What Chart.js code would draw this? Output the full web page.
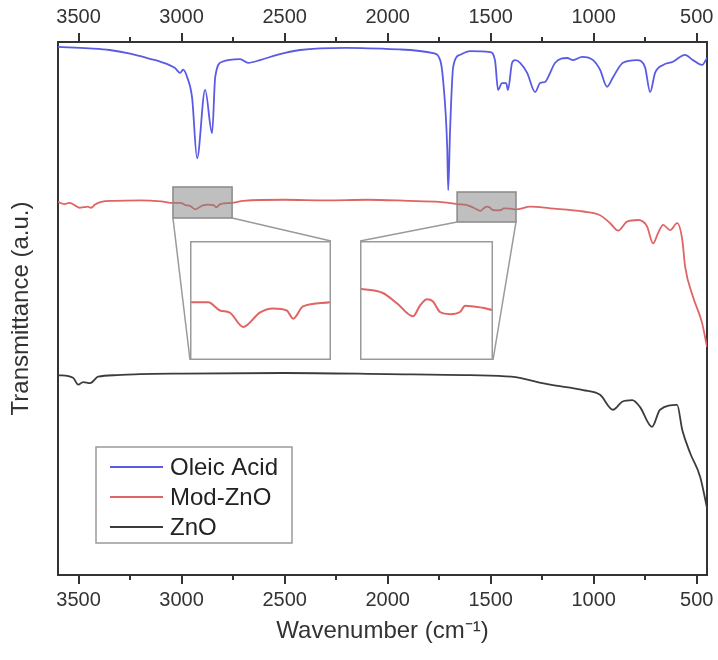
<!DOCTYPE html>
<html>
<head>
<meta charset="utf-8">
<script src="https://cdn.jsdelivr.net/npm/chart.js@4.4.1/dist/chart.umd.min.js"></script>
<style>
  body { margin: 0; background: #fff; }
  #wrap { position: relative; width: 718px; height: 660px; }
  #main { position: absolute; left: 0; top: 0; }
  .inset { position: absolute; background: #fff; }
</style>
</head>
<body>
<div id="wrap">
  <canvas id="main" width="718" height="660"></canvas>
  <canvas id="inset1" class="inset" width="141" height="119" style="left:190px;top:241px"></canvas>
  <canvas id="inset2" class="inset" width="133" height="119" style="left:360px;top:241px"></canvas>
</div>
<script>
// wavenumber (cm-1) and transmittance (a.u., 0-100)
const oleicWn = [3600,3450,3350,3250,3150,3104,3032,3007,2993,2973,2949,2925,2886,2852,2837,2803,2716,2677,2619,2536,2425,2200,1939,1779,1745,1731,1711,1706,1697,1682,1648,1600,1503,1479,1464,1445,1425,1416,1396,1381,1357,1323,1284,1260,1236,1221,1187,1129,1100,1056,1003,969,935,906,858,790,751,726,702,663,615,557,518,474,450];
const oleicT  = [99.1,98.8,98.5,97.8,96.8,96.3,95.1,94.2,94.8,93.4,89.5,78.2,91.0,82.9,93.4,96.3,96.8,96.1,96.6,97.6,98.5,98.9,98.6,97.9,96.6,92.9,80.3,72.2,83.5,95.3,97.6,98.3,98.1,96.6,91.0,92.3,92.3,91.0,96.1,96.6,96.1,94.2,90.6,92.3,92.5,93.4,96.1,97.0,96.6,97.2,96.6,94.8,91.6,93.4,96.1,96.6,95.3,90.6,94.2,95.7,96.3,97.6,96.6,95.7,97.0];

const modWn = [3600,3570,3545,3520,3495,3475,3455,3440,3420,3390,3330,3200,3100,3042,3005,2981,2961,2934,2900,2873,2845,2832,2812,2757,2700,2500,2300,2100,1900,1750,1663,1614,1583,1549,1534,1519,1506,1491,1469,1448,1437,1399,1377,1308,1211,1051,969,920,881,838,784,741,712,687,663,629,595,570,556,518,474,450];
const modT  = [70.0,69.6,69.8,69.4,68.9,69.0,69.1,68.9,69.5,70.0,70.2,70.3,70.1,69.8,69.8,69.4,69.3,68.6,69.3,69.5,69.4,69.0,69.6,69.8,70.2,70.4,70.3,70.4,70.2,70.0,69.6,69.4,68.9,68.3,68.8,69.1,69.0,68.5,68.4,68.5,68.8,68.7,68.6,69.1,68.8,68.2,67.5,66.0,64.6,66.3,66.6,65.4,62.2,64.2,65.7,64.7,66.0,62.9,57.8,52.2,47.3,42.8];

const znoWn = [3600,3527,3502,3478,3444,3405,3313,3202,3000,2500,2000,1600,1400,1211,1051,969,906,862,813,775,717,678,595,570,532,483,450];
const znoT  = [37.5,37.0,35.7,36.2,36.0,37.2,37.5,37.7,37.8,37.9,37.7,37.5,37.2,35.7,34.7,33.8,31.0,32.5,32.8,31.5,27.8,31.0,31.9,27.2,22.9,18.4,12.6];

const majorTicks = [3500, 3000, 2500, 2000, 1500, 1000, 500];
const minorTicks = [3250, 2750, 2250, 1750, 1250, 750];

// zoomed regions of the Mod-ZnO curve: [high wn, low wn], [low T, high T]
const box1Wn = [3042, 2755], box1T = [66.98, 72.8];
const box2Wn = [1663, 1377], box2T = [66.23, 71.86];

const seriesNames = ['Oleic Acid', 'Mod-ZnO', 'ZnO'];
const seriesColors = ['#5a5ae4', '#e06464', '#3c3c3c'];

Chart.defaults.font.family = 'Liberation Sans, Arial, sans-serif';
Chart.defaults.color = '#333';

function zip(xs, ys) { return xs.map((v, i) => ({ x: v, y: ys[i] })); }

const insets = [
  { wn: box1Wn, t: box1T, el: 'inset1', left: 190, top: 241, w: 141, h: 119, links: [['bl', 'bl'], ['br', 'tr']] },
  { wn: box2Wn, t: box2T, el: 'inset2', left: 360, top: 241, w: 133, h: 119, links: [['bl', 'tl'], ['br', 'br']] }
];

const decor = {
  id: 'decor',
  afterDatasetsDraw(chart) {
    const ctx = chart.ctx, xs = chart.scales.x, ys = chart.scales.y;
    ctx.save();
    insets.forEach(ins => {
      const l = xs.getPixelForValue(ins.wn[0]), r = xs.getPixelForValue(ins.wn[1]);
      const t = ys.getPixelForValue(ins.t[1]), b = ys.getPixelForValue(ins.t[0]);
      ctx.fillStyle = 'rgba(128,128,128,0.5)';
      ctx.fillRect(l, t, r - l, b - t);
      ctx.strokeStyle = '#8a8a8a';
      ctx.lineWidth = 1.5;
      ctx.strokeRect(l, t, r - l, b - t);
      const boxPt = { bl: [l, b], br: [r, b] };
      const insPt = {
        bl: [ins.left, ins.top + ins.h], br: [ins.left + ins.w, ins.top + ins.h],
        tl: [ins.left, ins.top], tr: [ins.left + ins.w, ins.top]
      };
      ctx.strokeStyle = '#9a9a9a';
      ins.links.forEach(([a, c]) => {
        ctx.beginPath();
        ctx.moveTo(boxPt[a][0], boxPt[a][1]);
        ctx.lineTo(insPt[c][0], insPt[c][1]);
        ctx.stroke();
      });
    });
    ctx.restore();
  },
  afterDraw(chart) {
    const ctx = chart.ctx, xs = chart.scales.x, area = chart.chartArea;
    ctx.save();
    // tick marks, outward, top and bottom
    ctx.strokeStyle = '#333';
    ctx.lineWidth = 2;
    [[majorTicks, 9], [minorTicks, 5]].forEach(([vals, len]) => {
      vals.forEach(v => {
        const px = Math.round(xs.getPixelForValue(v));
        ctx.beginPath();
        ctx.moveTo(px, area.bottom); ctx.lineTo(px, area.bottom + len);
        ctx.moveTo(px, area.top); ctx.lineTo(px, area.top - len);
        ctx.stroke();
      });
    });
    // legend box
    ctx.fillStyle = '#fff';
    ctx.fillRect(96, 447, 196, 96);
    ctx.strokeStyle = '#9a9a9a';
    ctx.lineWidth = 1.5;
    ctx.strokeRect(96, 447, 196, 96);
    ctx.font = '24px Liberation Sans, Arial, sans-serif';
    ctx.textBaseline = 'middle';
    chart.data.datasets.forEach((ds, i) => {
      const yy = 467 + i * 30;
      ctx.strokeStyle = ds.borderColor;
      ctx.lineWidth = 2;
      ctx.beginPath();
      ctx.moveTo(110, yy); ctx.lineTo(163, yy);
      ctx.stroke();
      ctx.fillStyle = '#222';
      ctx.fillText(ds.label, 170, yy + 1);
    });
    ctx.restore();
  }
};

const datasets = [zip(oleicWn, oleicT), zip(modWn, modT), zip(znoWn, znoT)].map((d, i) => ({
  label: seriesNames[i],
  data: d,
  borderColor: seriesColors[i],
  borderWidth: 1.8,
  pointRadius: 0,
  cubicInterpolationMode: 'monotone',
  fill: false
}));

const xAxis = (pos, h) => ({
  type: 'linear',
  position: pos,
  reverse: true,
  min: 450,
  max: 3600,
  afterBuildTicks: s => { s.ticks = majorTicks.map(v => ({ value: v })); },
  afterFit: s => { s.height = h; s.paddingLeft = 0; s.paddingRight = 0; },
  ticks: { font: { size: 20 }, color: '#333', padding: 13, maxRotation: 0, callback: v => String(v) },
  grid: { display: false, drawTicks: false },
  border: { display: true, color: '#333', width: 2 }
});

new Chart(document.getElementById('main'), {
  type: 'line',
  data: { datasets },
  options: {
    responsive: false,
    animation: false,
    devicePixelRatio: 1,
    layout: { padding: 0 },
    plugins: { legend: { display: false }, tooltip: { enabled: false } },
    scales: {
      x: Object.assign(xAxis('bottom', 85), {
        title: { display: true, text: 'Wavenumber (cm⁻¹)', font: { size: 24 }, color: '#333', padding: { top: 0, bottom: 14 } }
      }),
      x2: xAxis('top', 42),
      y: {
        type: 'linear', position: 'left', min: 0, max: 100,
        afterFit: s => { s.width = 58; },
        ticks: { display: false },
        grid: { display: false, drawTicks: false },
        border: { display: true, color: '#333', width: 2 },
        title: { display: true, text: 'Transmittance (a.u.)', font: { size: 24 }, color: '#333', padding: { top: 7, bottom: 0 } }
      },
      y2: {
        type: 'linear', position: 'right', min: 0, max: 100,
        afterFit: s => { s.width = 11; },
        ticks: { display: false },
        grid: { display: false, drawTicks: false },
        border: { display: true, color: '#333', width: 2 }
      }
    }
  },
  plugins: [decor]
});

const frame = {
  id: 'frame',
  afterDraw(chart) {
    const ctx = chart.ctx;
    ctx.save();
    ctx.strokeStyle = '#9a9a9a';
    ctx.lineWidth = 1.5;
    ctx.strokeRect(0.75, 0.75, chart.width - 1.5, chart.height - 1.5);
    ctx.restore();
  }
};

insets.forEach(ins => {
  new Chart(document.getElementById(ins.el), {
    type: 'line',
    data: {
      datasets: [{
        data: zip(modWn, modT),
        borderColor: seriesColors[1],
        borderWidth: 2,
        pointRadius: 0,
        cubicInterpolationMode: 'monotone'
      }]
    },
    options: {
      responsive: false,
      animation: false,
      devicePixelRatio: 1,
      events: [],
      layout: { padding: 0 },
      plugins: { legend: { display: false }, tooltip: { enabled: false } },
      scales: {
        x: { type: 'linear', reverse: true, min: ins.wn[1], max: ins.wn[0], display: false },
        y: { type: 'linear', min: ins.t[0], max: ins.t[1], display: false }
      }
    },
    plugins: [frame]
  });
});
</script>
</body>
</html>
